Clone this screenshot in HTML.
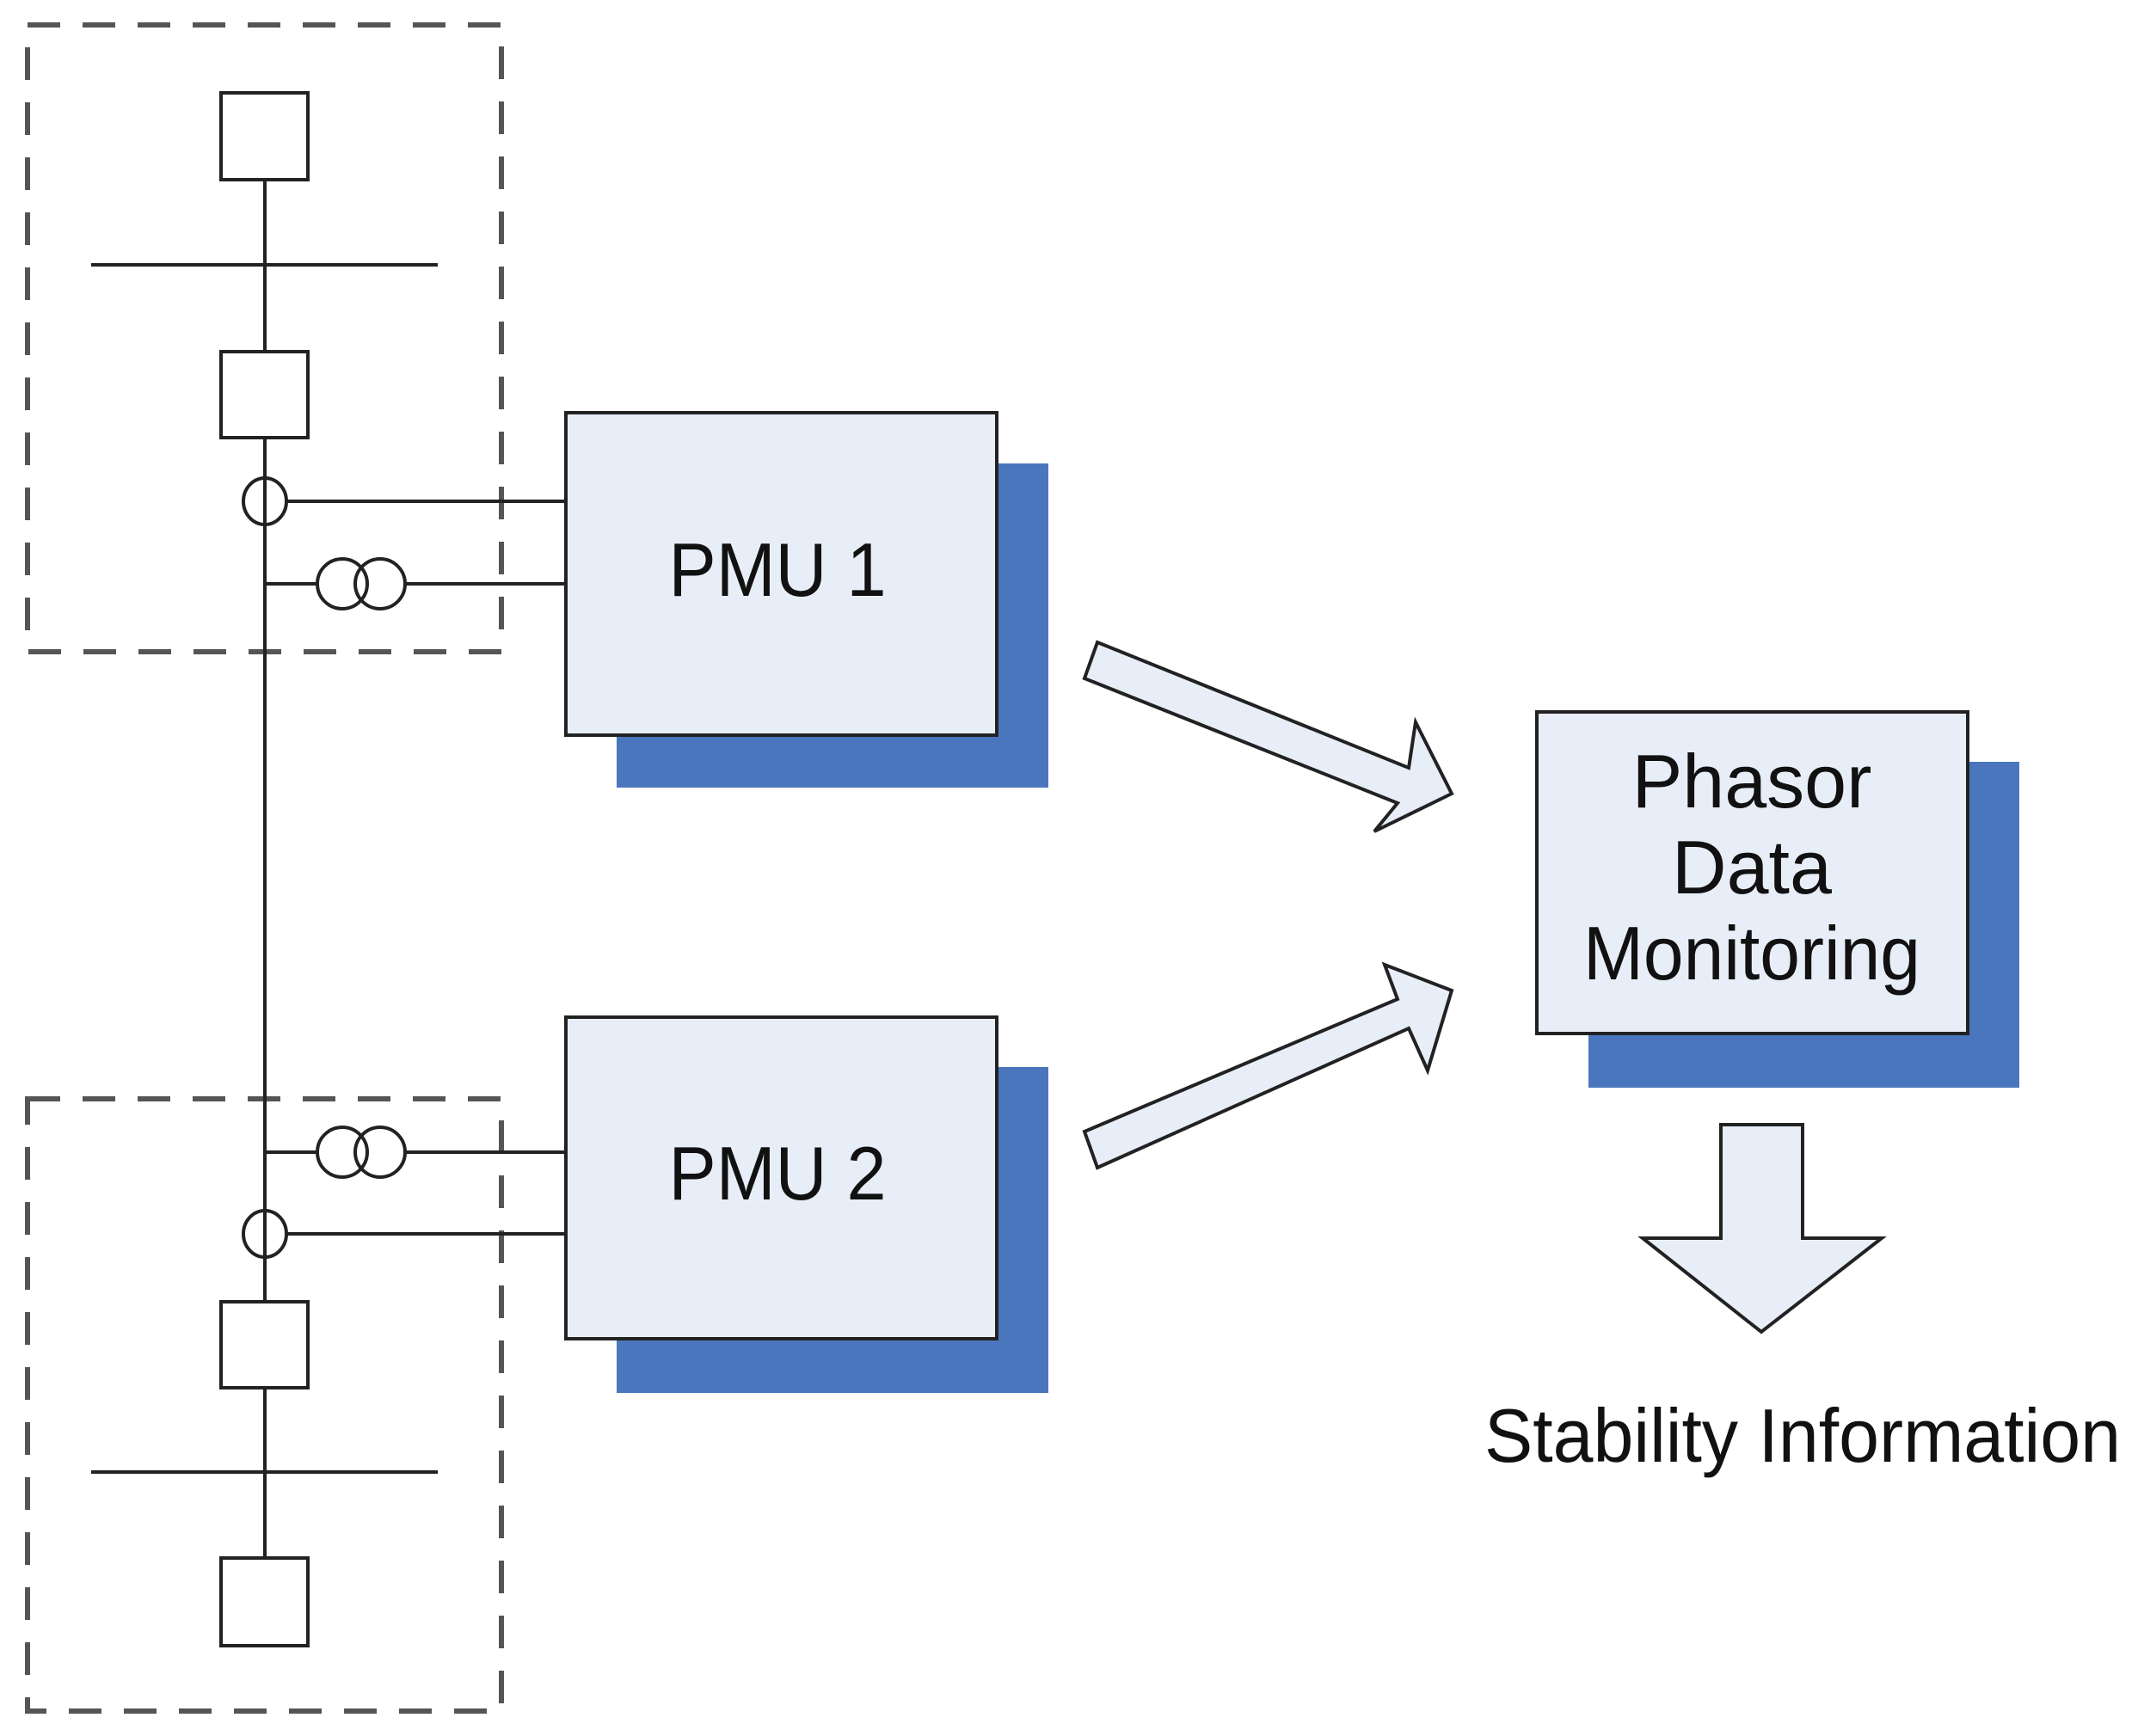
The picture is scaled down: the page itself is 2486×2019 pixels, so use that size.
<!DOCTYPE html>
<html><head><meta charset="utf-8"><style>html,body{margin:0;padding:0;background:#fff}svg{display:block}</style></head>
<body>
<svg width="2486" height="2019" viewBox="0 0 2486 2019" xmlns="http://www.w3.org/2000/svg">
<g fill="none" stroke="#555" stroke-width="6" stroke-dasharray="38,26">
<rect x="32" y="29" width="551" height="729"/>
<rect x="32" y="1278" width="551" height="712"/>
</g>
<g stroke="#222" stroke-width="4" fill="none">
<line x1="308" y1="209" x2="308" y2="1514"/>
<line x1="308" y1="1614" x2="308" y2="1812"/>
<line x1="106" y1="308" x2="509" y2="308"/>
<line x1="106" y1="1712" x2="509" y2="1712"/>
<rect x="257" y="108" width="101" height="101" fill="#fff"/>
<rect x="257" y="409" width="101" height="100" fill="#fff"/>
<rect x="257" y="1514" width="101" height="100" fill="#fff"/>
<rect x="257" y="1812" width="101" height="102" fill="#fff"/>
<ellipse cx="308" cy="583" rx="25" ry="27"/>
<line x1="333" y1="583" x2="658" y2="583"/>
<circle cx="398" cy="679" r="29"/><circle cx="442" cy="679" r="29"/>
<line x1="308" y1="679" x2="369" y2="679"/>
<line x1="471" y1="679" x2="658" y2="679"/>
<circle cx="398" cy="1340" r="29"/><circle cx="442" cy="1340" r="29"/>
<line x1="308" y1="1340" x2="369" y2="1340"/>
<line x1="471" y1="1340" x2="658" y2="1340"/>
<ellipse cx="308" cy="1435" rx="25" ry="27"/>
<line x1="333" y1="1435" x2="658" y2="1435"/>
</g>
<g fill="#4a76be">
<rect x="717" y="539" width="502" height="377"/>
<rect x="717" y="1241" width="502" height="379"/>
<rect x="1847" y="886" width="501" height="379"/>
</g>
<g fill="#e8eef8" stroke="#222" stroke-width="4">
<rect x="658" y="480" width="501" height="375"/>
<rect x="658" y="1183" width="501" height="374"/>
<rect x="1787" y="828" width="501" height="374"/>
<polygon points="1276,747 1261,789 1625,934 1598,967 1688,923 1646,840 1638,893"/>
<polygon points="1261,1316 1276,1358 1638,1196 1660,1245 1688,1152 1610,1122 1625,1162"/>
<polygon points="2001,1308 2096,1308 2096,1440 2188,1440 2048,1549 1910,1440 2001,1440"/>
</g>
<g font-family="Liberation Sans, sans-serif" fill="#111" text-anchor="middle" font-size="88">
<text x="904" y="693" textLength="253" lengthAdjust="spacingAndGlyphs">PMU 1</text>
<text x="904" y="1395" textLength="253" lengthAdjust="spacingAndGlyphs">PMU 2</text>
<text x="2037" y="939">Phasor</text>
<text x="2037" y="1039">Data</text>
<text x="2037" y="1139" textLength="392" lengthAdjust="spacingAndGlyphs">Monitoring</text>
<text x="2096" y="1700" textLength="740" lengthAdjust="spacingAndGlyphs">Stability Information</text>
</g>
</svg>
</body></html>
